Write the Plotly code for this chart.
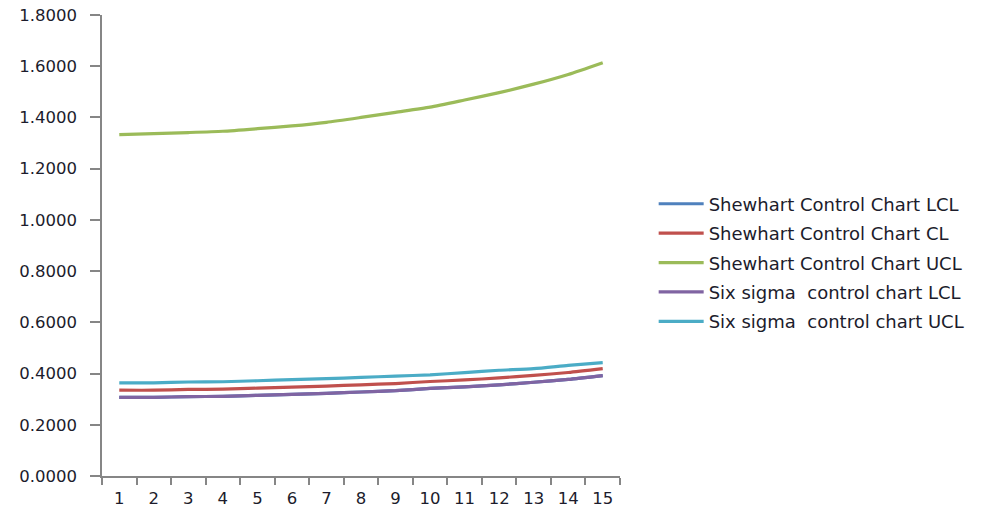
import plotly.graph_objects as go

# Sample number (x categories)
samples = [str(i) for i in range(1, 16)]

# Control limits per sample
shewhart_lcl = [0.307, 0.307, 0.310, 0.311, 0.315, 0.319, 0.323, 0.328, 0.333, 0.342, 0.348, 0.356, 0.366, 0.377, 0.392]
shewhart_cl = [0.335, 0.335, 0.338, 0.339, 0.343, 0.347, 0.351, 0.356, 0.361, 0.369, 0.375, 0.383, 0.393, 0.404, 0.419]
shewhart_ucl = [1.333, 1.337, 1.341, 1.346, 1.356, 1.367, 1.381, 1.400, 1.420, 1.440, 1.468, 1.497, 1.530, 1.568, 1.614]
sixsigma_lcl = [0.307, 0.307, 0.310, 0.311, 0.315, 0.319, 0.323, 0.328, 0.333, 0.342, 0.348, 0.356, 0.366, 0.377, 0.392]
sixsigma_ucl = [0.364, 0.364, 0.367, 0.368, 0.372, 0.376, 0.380, 0.385, 0.390, 0.395, 0.404, 0.413, 0.419, 0.432, 0.443]

series = [
    ("Shewhart Control Chart LCL", shewhart_lcl, "#4F81BD"),
    ("Shewhart Control Chart CL", shewhart_cl, "#C0504D"),
    ("Shewhart Control Chart UCL", shewhart_ucl, "#9BBB59"),
    ("Six sigma  control chart LCL", sixsigma_lcl, "#8064A2"),
    ("Six sigma  control chart UCL", sixsigma_ucl, "#4BACC6"),
]

fig = go.Figure()
for i, (name, vals, color) in enumerate(series):
    fig.add_trace(go.Scatter(
        x=samples, y=vals, name=name, mode="lines",
        line=dict(color=color, width=3.2, shape="spline", smoothing=0.6),
        legendgroup=f"g{i}",
    ))

axis_color = "#868686"
tick_font = dict(family="DejaVu Sans", size=16.5, color="#1c1c2c")

fig.update_layout(
    width=992, height=509,
    margin=dict(l=102, r=372, t=15, b=33, autoexpand=False),
    paper_bgcolor="white", plot_bgcolor="white",
    showlegend=True,
    legend=dict(
        x=1.065, y=0.63, xanchor="left", yanchor="top",
        font=dict(family="DejaVu Sans", size=18, color="#1c1c2c"),
        tracegroupgap=3, itemwidth=45, bgcolor="rgba(0,0,0,0)",
    ),
    xaxis=dict(
        type="category", range=[-0.5, 14.5], automargin=False,
        showline=True, linecolor=axis_color, linewidth=1.5,
        ticks="outside", ticklen=7, tickcolor=axis_color, tickwidth=1.5,
        tickson="boundaries", showgrid=False, zeroline=False,
        tickfont=tick_font, ticklabelstandoff=6,
    ),
    yaxis=dict(
        range=[0, 1.8], dtick=0.2, tickformat=".4f", automargin=False,
        showline=True, linecolor=axis_color, linewidth=1.5,
        ticks="outside", ticklen=10, tickcolor=axis_color, tickwidth=1.5,
        showgrid=False, zeroline=False, tickfont=tick_font,
        ticklabelstandoff=10,
    ),
)

fig.write_html("out.html")
